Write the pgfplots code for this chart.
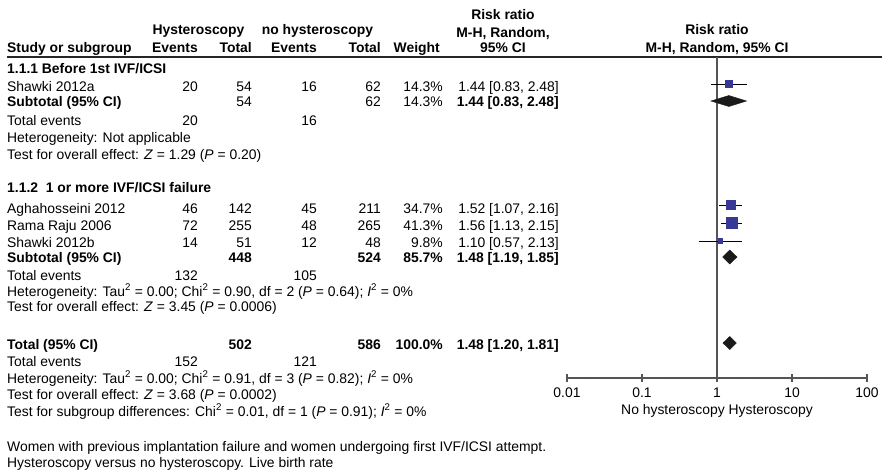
\documentclass[border=0pt]{standalone}
\usepackage{pgfplots}
\pgfplotsset{compat=1.18}
\usepackage{fontspec}
\setmainfont{Liberation Sans}
\definecolor{sq}{RGB}{56,56,150}
\definecolor{vline}{RGB}{85,85,85}
\definecolor{dia}{RGB}{26,26,26}
\newcommand{\tsz}{\fontsize{13.9}{16.5}\selectfont}
\begin{document}
\tsz
\begin{tikzpicture}[x=1pt,y=-1pt,
  L/.style={anchor=base west,inner sep=0pt,font=\tsz},
  R/.style={anchor=base east,inner sep=0pt,font=\tsz},
  C/.style={anchor=base,inner sep=0pt,font=\tsz}]
\path[use as bounding box] (0,0) rectangle (882,472);
% ---------- header ----------
\node[C] at (198.5,34) {\bfseries Hysteroscopy};
\node[C] at (317.5,34) {\bfseries no hysteroscopy};
\node[L] at (7,52) {\bfseries Study or subgroup};
\node[R] at (198,52) {\bfseries Events};
\node[R] at (252,52) {\bfseries Total};
\node[R] at (317,52) {\bfseries Events};
\node[R] at (381,52) {\bfseries Total};
\node[R] at (440,52) {\bfseries Weight};
\node[C] at (503,19) {\bfseries Risk ratio};
\node[C] at (503,37) {\bfseries M-H, Random,};
\node[C] at (503,52) {\bfseries 95\% CI};
\node[C] at (717,34) {\bfseries Risk ratio};
\node[C] at (717,52) {\bfseries M-H, Random, 95\% CI};
\draw[line width=1.3pt,black!85] (7,57) -- (882,57);
% ---------- subgroup 1 ----------
\node[L] at (7,73) {\bfseries 1.1.1 Before 1st IVF/ICSI};
\node[L] at (7,91) {Shawki 2012a};
\node[R] at (198,91) {20};\node[R] at (252,91) {54};\node[R] at (317,91) {16};\node[R] at (381,91) {62};
\node[R] at (443,91) {14.3\%};\node[R] at (559,91) {1.44 [0.83, 2.48]};
\node[L] at (7,106) {\bfseries Subtotal (95\% CI)};
\node[R] at (252,106) {54};\node[R] at (381,106) {62};
\node[R] at (443,106) {14.3\%};\node[R] at (559,106) {\bfseries 1.44 [0.83, 2.48]};
\node[L] at (7,125) {Total events};
\node[R] at (198,125) {20};\node[R] at (317,125) {16};
\node[L] at (7,142) {Heterogeneity: Not applicable};
\node[L] at (7,159) {Test for overall effect: \textit{Z} = 1.29 (\textit{P} = 0.20)};
% ---------- subgroup 2 ----------
\node[L] at (7,192) {\bfseries 1.1.2\ \ 1 or more IVF/ICSI failure};
\node[L] at (7,213) {Aghahosseini 2012};
\node[R] at (198,213) {46};\node[R] at (252,213) {142};\node[R] at (317,213) {45};\node[R] at (381,213) {211};
\node[R] at (443,213) {34.7\%};\node[R] at (559,213) {1.52 [1.07, 2.16]};
\node[L] at (7,230) {Rama Raju 2006};
\node[R] at (198,230) {72};\node[R] at (252,230) {255};\node[R] at (317,230) {48};\node[R] at (381,230) {265};
\node[R] at (443,230) {41.3\%};\node[R] at (559,230) {1.56 [1.13, 2.15]};
\node[L] at (7,247) {Shawki 2012b};
\node[R] at (198,247) {14};\node[R] at (252,247) {51};\node[R] at (317,247) {12};\node[R] at (381,247) {48};
\node[R] at (443,247) {9.8\%};\node[R] at (559,247) {1.10 [0.57, 2.13]};
\node[L] at (7,262) {\bfseries Subtotal (95\% CI)};
\node[R] at (252,262) {\bfseries 448};\node[R] at (381,262) {\bfseries 524};
\node[R] at (443,262) {\bfseries 85.7\%};\node[R] at (559,262) {\bfseries 1.48 [1.19, 1.85]};
\node[L] at (7,280) {Total events};
\node[R] at (198,280) {132};\node[R] at (317,280) {105};
\node[L] at (7,296) {Heterogeneity: Tau\textsuperscript{2} = 0.00; Chi\textsuperscript{2} = 0.90, df = 2 (\textit{P} = 0.64); \textit{I}\textsuperscript{2} = 0\%};
\node[L] at (7,311) {Test for overall effect: \textit{Z} = 3.45 (\textit{P} = 0.0006)};
% ---------- total ----------
\node[L] at (7,349) {\bfseries Total (95\% CI)};
\node[R] at (252,349) {\bfseries 502};\node[R] at (381,349) {\bfseries 586};
\node[R] at (443,349) {\bfseries 100.0\%};\node[R] at (559,349) {\bfseries 1.48 [1.20, 1.81]};
\node[L] at (7,366) {Total events};
\node[R] at (198,366) {152};\node[R] at (317,366) {121};
\node[L] at (7,383) {Heterogeneity: Tau\textsuperscript{2} = 0.00; Chi\textsuperscript{2} = 0.91, df = 3 (\textit{P} = 0.82); \textit{I}\textsuperscript{2} = 0\%};
\node[L] at (7,399) {Test for overall effect: \textit{Z} = 3.68 (\textit{P} = 0.0002)};
\node[L] at (7,416) {Test for subgroup differences: Chi\textsuperscript{2} = 0.01, df = 1 (\textit{P} = 0.91); \textit{I}\textsuperscript{2} = 0\%};
\node[L] at (7,451) {Women with previous implantation failure and women undergoing first IVF/ICSI attempt.};
\node[L] at (7,467) {Hysteroscopy versus no hysteroscopy. Live birth rate};
\node[C] at (717,414) {No hysteroscopy Hysteroscopy};
% ---------- forest axis ----------
\coordinate (axo) at (567,378);
\begin{axis}[at={(axo)},anchor=south west,scale only axis,
  width=300pt,height=321pt,
  xmode=log,xmin=0.01,xmax=100,ymin=57,ymax=378,y dir=reverse,
  axis x line=bottom,axis y line=none,
  x axis line style={-,draw=vline,line width=1.2pt},
  xtick={0.01,0.1,1,10,100},xticklabels={0.01,0.1,1,10,100},
  minor xtick={},
  xtick align=center,major tick length=8pt,
  every tick/.style={draw=vline,line width=1.2pt},
  xticklabel style={font=\tsz,inner sep=0pt,yshift=-6pt},
  clip=false]
% line of no effect
\addplot[vline,line width=1.4pt] coordinates {(1,57) (1,378)};
% confidence intervals
\addplot[black,line width=1pt] coordinates {(0.83,84) (2.48,84)};
\addplot[black,line width=1pt] coordinates {(1.07,205) (2.16,205)};
\addplot[black,line width=1pt] coordinates {(1.13,223) (2.15,223)};
\addplot[black,line width=1pt] coordinates {(0.57,241) (2.13,241)};
% study squares (size ~ weight)
\addplot[only marks,mark=square*,mark size=3.6pt,color=sq] coordinates {(1.44,84)};
\addplot[only marks,mark=square*,mark size=4.6pt,color=sq] coordinates {(1.52,205)};
\addplot[only marks,mark=square*,mark size=5.4pt,color=sq] coordinates {(1.56,223)};
\addplot[only marks,mark=square*,mark size=2.4pt,color=sq] coordinates {(1.10,241)};
% pooled diamonds
\addplot[fill=dia,draw=dia] coordinates {(0.83,101) (1.44,95.5) (2.48,101) (1.44,106.5)} -- cycle;
\addplot[fill=dia,draw=dia] coordinates {(1.19,257) (1.48,250) (1.85,257) (1.48,264)} -- cycle;
\addplot[fill=dia,draw=dia] coordinates {(1.20,343) (1.48,336.5) (1.81,343) (1.48,349.5)} -- cycle;
\end{axis}
\end{tikzpicture}
\end{document}
